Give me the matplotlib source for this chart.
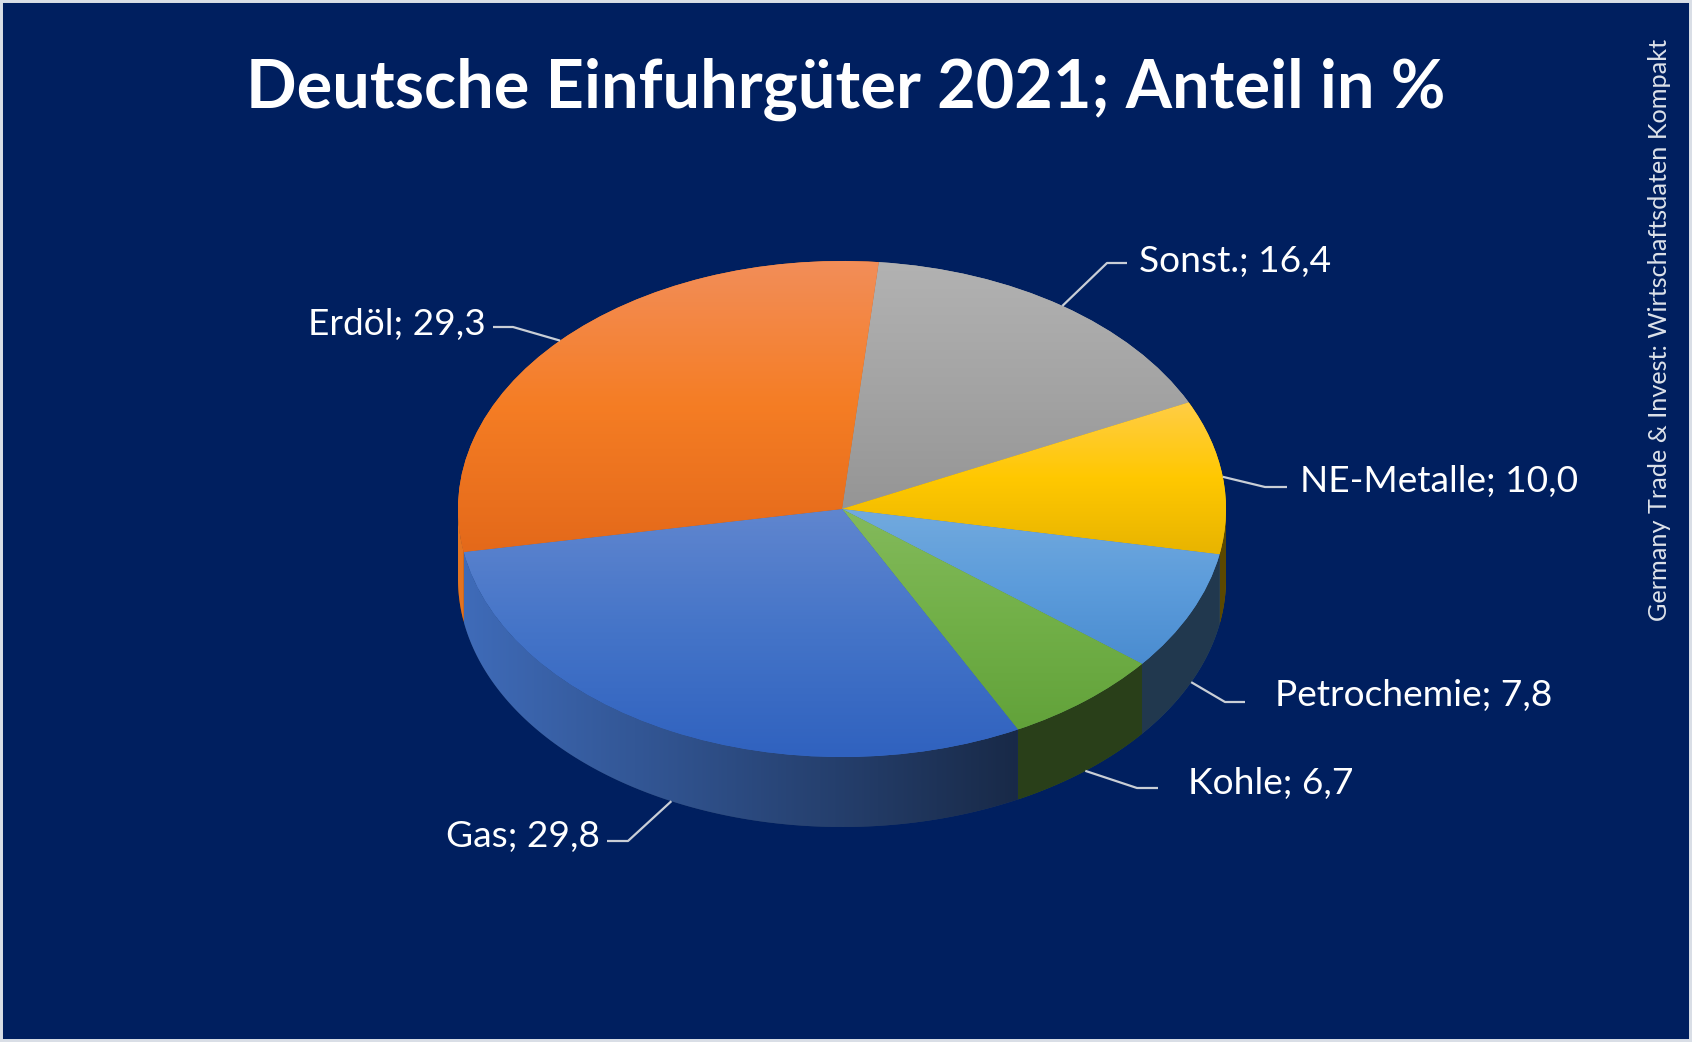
import numpy as np
import matplotlib.pyplot as plt
from matplotlib.patches import Polygon, Rectangle
from matplotlib.colors import to_rgb

W, H = 1692, 1042
BG = '#001f5f'
FONT = ['Lato', 'DejaVu Sans']

# data (order clockwise from the top)
labels = ['Sonst.', 'NE-Metalle', 'Petrochemie', 'Kohle', 'Gas', 'Erdöl']
values = [16.4, 10.0, 7.8, 6.7, 29.8, 29.3]

# slice colours: top / middle / bottom of the gradient
top_cols = ['#b2b2b2', '#ffcd46', '#72aade', '#84ba5c', '#6086cf', '#f28e5a']
mid_cols = ['#a4a4a4', '#ffc800', '#5c9cdb', '#72b048', '#4474c8', '#f57d24']
bot_cols = ['#959595', '#e8b400', '#4a8cd0', '#62a23a', '#3062bf', '#e4691a']

# pie geometry in pixels
cx, cy = 842, 509
rx, ry = 384, 248
depth_px = 70
start = 84.5

depth = depth_px / ry


def px(x, y):
    # figure pixel (top-left origin) -> data coordinates
    return (x - cx) / rx, (cy - y) / ry


def vgrad(c_top, c_mid, c_bot, n=200):
    t = np.linspace(0, 1, n)[:, None]
    a, b, c = (np.array(to_rgb(k)) for k in (c_top, c_mid, c_bot))
    g = np.where(t < 0.5, a + (b - a) * (t / 0.5), b + (c - b) * ((t - 0.5) / 0.5))
    return g[:, None, :].repeat(2, axis=1)


def shade(x):
    return 0.36 + 0.57 * np.clip((0.45 - x) / 1.45, 0, 1)


fig = plt.figure(figsize=(W / 100, H / 100), dpi=100, facecolor=BG)
ax = fig.add_axes([0, 0, 1, 1])
ax.set_facecolor(BG)

wedges, _ = ax.pie(values, startangle=start, counterclock=False, radius=1,
                   center=(0, 0), colors=mid_cols,
                   wedgeprops=dict(linewidth=0, zorder=4))

# side walls (front half only)
for w, col in zip(wedges, mid_cols):
    a = max(w.theta1, -180)
    b = min(w.theta2, 0)
    if b <= a:
        continue
    t = np.radians(np.linspace(a, b, 120))
    xs, ys = np.cos(t), np.sin(t)
    pts = np.vstack([np.column_stack([xs, ys]),
                     np.column_stack([xs[::-1], ys[::-1] - depth])])
    base = np.array(to_rgb(col))
    poly = Polygon(pts, closed=True, facecolor=base * 0.5, linewidth=0, zorder=2)
    ax.add_patch(poly)
    x0, x1 = xs.min(), xs.max()
    y0, y1 = (ys - depth).min(), ys.max()
    gx = np.linspace(x0, x1, 300)
    img = (base[None, :] * shade(gx)[:, None])[None, :, :].repeat(2, axis=0)
    im = ax.imshow(img, extent=[x0, x1, y0, y1], aspect='auto',
                   interpolation='bilinear', zorder=3)
    im.set_clip_path(poly)

# top faces with vertical gradient
for w, ct, cm, cb in zip(wedges, top_cols, mid_cols, bot_cols):
    v = w.get_path().vertices
    x0, x1 = v[:, 0].min(), v[:, 0].max()
    y0, y1 = v[:, 1].min(), v[:, 1].max()
    im = ax.imshow(vgrad(ct, cm, cb), extent=[x0, x1, y0, y1], aspect='auto',
                   origin='upper', interpolation='bilinear', zorder=5)
    im.set_clip_path(w)

# label layout: text position (px), alignment, leader elbow points (px)
layout = {
    'Sonst.':      ((1139, 272), 'left',  [(1127, 263), (1107, 263)]),
    'NE-Metalle':  ((1300, 492), 'left',  [(1287, 487), (1265, 487)]),
    'Petrochemie': ((1275, 706), 'left',  [(1245, 702), (1225, 702)]),
    'Kohle':       ((1188, 794), 'left',  [(1158, 788), (1137, 788)]),
    'Gas':         ((600, 847),  'right', [(607, 841), (628, 841)]),
    'Erdöl':       ((486, 335),  'right', [(493, 327), (513, 327)]),
}

for w, lab, val in zip(wedges, labels, values):
    mid = np.radians((w.theta1 + w.theta2) / 2)
    ax_, ay_ = np.cos(mid), np.sin(mid)
    if ay_ < 0:
        ay_ -= depth
    (tx, ty), ha, elbow = layout[lab]
    pts = [px(*p) for p in elbow] + [(ax_, ay_)]
    ax.plot([p[0] for p in pts], [p[1] for p in pts], color='#c9ced6',
            lw=1.6, zorder=6, solid_capstyle='butt')
    txt = f"{lab}; " + f"{val:.1f}".replace('.', ',')
    ax.text(*px(tx, ty), txt, ha=ha, va='baseline', color='white',
            fontsize=26.7, family=FONT, zorder=7)

ax.set_aspect('auto')
ax.set_xlim(-cx / rx, (W - cx) / rx)
ax.set_ylim(-(H - cy) / ry, cy / ry)
ax.axis('off')

fig.text(846 / W, 1 - 108 / H, 'Deutsche Einfuhrgüter 2021; Anteil in %',
         ha='center', va='baseline', color='white', fontsize=48,
         fontweight='bold', family=FONT)
fig.text(1659 / W, 1 - 330 / H, 'Germany Trade & Invest: Wirtschaftsdaten Kompakt',
         ha='center', va='center', rotation=90, color='#dde2ea', fontsize=18.2,
         family=FONT)

fig.patches.append(Rectangle((0, 0), 1, 1, transform=fig.transFigure, fill=False,
                             edgecolor='#d9dee6', linewidth=4.3))

fig.savefig('out.png', dpi=100, facecolor=BG)
